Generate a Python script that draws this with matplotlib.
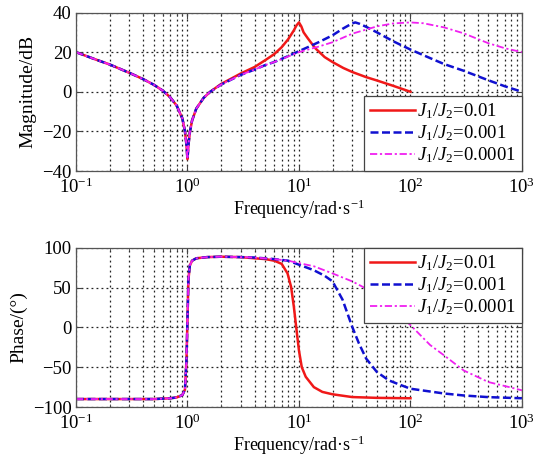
import matplotlib
matplotlib.use("Agg")
import matplotlib.pyplot as plt
from matplotlib.ticker import LogLocator, FixedLocator, FixedFormatter, NullFormatter

plt.rcParams['font.family'] = 'Liberation Serif'
plt.rcParams['mathtext.fontset'] = 'custom'
plt.rcParams['mathtext.rm'] = 'Liberation Serif'
plt.rcParams['mathtext.it'] = 'Liberation Serif:italic'
plt.rcParams['axes.unicode_minus'] = True

labels = ['$J_1/J_2$=0.01', '$J_1/J_2$=0.001', '$J_1/J_2$=0.0001']

# magnitude (dB) read per series
f_mag_r = [0.1, 0.15, 0.2, 0.3, 0.4, 0.5, 0.6, 0.7, 0.8, 0.9, 0.95, 0.98, 1.0,
           1.02, 1.05, 1.1, 1.2, 1.4, 1.6, 2, 2.5, 3, 4, 5, 6, 7, 8, 9, 9.5,
           10, 10.5, 11, 12, 14, 17, 20, 25, 30, 40, 50, 70, 100]
mag_r = [20, 16.3, 13.8, 9.6, 6.4, 3.5, 0.6, -2.8, -7, -13.5, -20, -27, -34,
         -27, -20.5, -14.5, -8.5, -3, 0, 3.9, 6.8, 9.2, 12.5, 16, 19, 22.5, 26.5, 31, 33.5,
         35, 33, 30, 27, 22, 17.5, 15, 12, 10, 7.4, 5.7, 3, 0]

f_mag_b = [0.1, 0.15, 0.2, 0.3, 0.4, 0.5, 0.6, 0.7, 0.8, 0.9, 0.95, 0.98, 1.0,
           1.02, 1.05, 1.1, 1.2, 1.4, 1.6, 2, 2.5, 3, 4, 5, 6, 7, 8, 10, 12, 15,
           20, 25, 30, 32, 35, 40, 50, 70, 100, 150, 200, 300, 500, 700, 1000]
mag_b = [20, 16.3, 13.8, 9.6, 6.4, 3.5, 0.6, -2.8, -7, -13.5, -20, -27, -34,
         -27, -20.5, -14.5, -8.5, -3, 0, 3.6, 6.3, 8.5, 11.2, 13.5, 15, 16.6, 18, 20.5, 22.5, 25,
         28.5, 32, 34.5, 35, 34.3, 32.8, 30, 25.5, 21.3, 17, 14, 10.6, 5.8, 2.8, 0]

f_mag_m = [0.1, 0.15, 0.2, 0.3, 0.4, 0.5, 0.6, 0.7, 0.8, 0.9, 0.95, 0.98, 1.0,
           1.02, 1.05, 1.1, 1.2, 1.4, 1.6, 2, 2.5, 3, 4, 5, 6, 7, 8, 10, 15,
           20, 30, 50, 70, 100, 130, 200, 300, 500, 700, 1000]
mag_m = [20, 16.3, 13.8, 9.6, 6.4, 3.5, 0.6, -2.8, -7, -13.5, -20, -27, -34,
         -27, -20.5, -14.5, -8.5, -3, 0, 3.6, 6.3, 8.5, 11.2, 13.5, 15, 16.5, 17.8, 20, 22.8,
         25, 29.3, 33, 34.5, 35, 34.6, 32.5, 29.5, 24.5, 22, 20]

# phase (deg) read per series
f_ph_r = [0.1, 0.3, 0.5, 0.7, 0.8, 0.9, 0.95, 0.98, 1.0, 1.02, 1.05, 1.1, 1.2,
          1.5, 2, 3, 4, 5, 6, 7, 7.9, 8.5, 9.0, 9.6, 10, 10.6, 11.5, 13.6, 16.2,
          20, 30, 50, 100]
ph_r = [-90, -90, -90, -89, -88, -85, -78, -40, 10, 60, 78, 84, 87,
        88.5, 89, 88.5, 87, 86, 84, 80, 68, 51, 26, -8, -29, -50, -62, -75, -81,
        -84, -87.5, -88.5, -89]

f_ph_b = [0.1, 0.3, 0.5, 0.7, 0.8, 0.9, 0.95, 0.98, 1.0, 1.02, 1.05, 1.1, 1.2,
          1.5, 2, 3, 4, 6, 8, 10, 13.6, 17, 20, 24.6, 30, 34.5, 40, 50, 64, 79,
          100, 200, 300, 500, 1000]
ph_b = [-90, -90, -90, -89, -88, -85, -78, -40, 10, 60, 78, 84, 87,
        88.5, 89, 88.5, 88, 86, 84, 79, 72, 65, 58, 35, 1, -20, -39, -56, -66.5, -71.6,
        -77, -83, -85.5, -87.6, -89]

f_ph_m = [0.1, 0.3, 0.5, 0.7, 0.8, 0.9, 0.95, 0.98, 1.0, 1.02, 1.05, 1.1, 1.2,
          1.5, 2, 3, 4, 6, 8, 10, 13.6, 20, 30, 37.5, 50, 70, 100, 150, 200,
          300, 500, 770, 1000]
ph_m = [-90, -90, -90, -89, -88, -85, -78, -40, 10, 60, 78, 84, 87,
        88.5, 89, 88.5, 88, 86, 84, 81, 77, 68, 58, 51, 40, 22, 3, -22, -35,
        -54, -68.6, -75, -79]

styles = [dict(color='#f01818', ls='-', lw=1.8),
          dict(color='#1010d0', ls='--', lw=1.8, dashes=(3.2, 1.4)),
          dict(color='#f020f0', ls='-.', lw=1.3, dashes=(4, 1.5, 1.2, 1.5))]

fig = plt.figure(figsize=(5.45, 4.57), dpi=100)
ax1 = fig.add_axes([0.1394, 0.6258, 0.8183, 0.3468])
ax2 = fig.add_axes([0.1394, 0.1094, 0.8183, 0.3480])

for f, y, st, lab in zip([f_mag_r, f_mag_b, f_mag_m], [mag_r, mag_b, mag_m], styles, labels):
    ax1.semilogx(f, y, label=lab, **st)
for f, y, st, lab in zip([f_ph_r, f_ph_b, f_ph_m], [ph_r, ph_b, ph_m], styles, labels):
    ax2.semilogx(f, y, label=lab, **st)

decade_ticks = [0.1, 1, 10, 100, 1000]
decade_labels = ['$10^{-1}$', '$10^{0}$', '$10^{1}$', '$10^{2}$', '$10^{3}$']

for ax, yt, ylab in [(ax1, [-40, -20, 0, 20, 40], 'Magnitude/dB'),
                     (ax2, [-100, -50, 0, 50, 100], 'Phase/(°)')]:
    ax.set_xlim(0.1, 1000)
    ax.set_ylim(yt[0], yt[-1])
    ax.set_yticks(yt)
    ax.xaxis.set_major_locator(FixedLocator(decade_ticks))
    ax.xaxis.set_major_formatter(FixedFormatter(decade_labels))
    ax.xaxis.set_minor_locator(LogLocator(base=10, subs=range(2, 10), numticks=20))
    ax.xaxis.set_minor_formatter(NullFormatter())
    ax.grid(True, which='both', axis='x', ls=(0, (1.5, 2.5)), color='#222222', lw=0.9)
    ax.grid(True, which='major', axis='y', ls=(0, (1.5, 2.5)), color='#222222', lw=0.9)
    ax.tick_params(which='both', direction='in', top=True, right=True, labelsize=13.5,
                   color='#444444')
    ax.tick_params(axis='x', pad=5)
    ax.tick_params(axis='y', pad=3)
    ax.tick_params(which='major', length=4)
    ax.tick_params(which='minor', length=2)
    for sp in ax.spines.values():
        sp.set_color('#555555')
        sp.set_linewidth(0.9)
    ax.set_xlabel('Frequency/rad·s$^{-1}$', fontsize=13, labelpad=0)
    ax.set_ylabel(ylab, fontsize=14, labelpad=4)

leg_kw = dict(fontsize=13.5, fancybox=False, framealpha=1, edgecolor='#444444',
              borderaxespad=0, handlelength=2.4, handletextpad=0.15, labelspacing=0.12,
              borderpad=0.3)
l1 = ax1.legend(loc='lower right', **leg_kw)
l2 = ax2.legend(loc='upper right', **leg_kw)
for l in (l1, l2):
    l.get_frame().set_linewidth(0.9)

fig.savefig('out.png', dpi=100)
